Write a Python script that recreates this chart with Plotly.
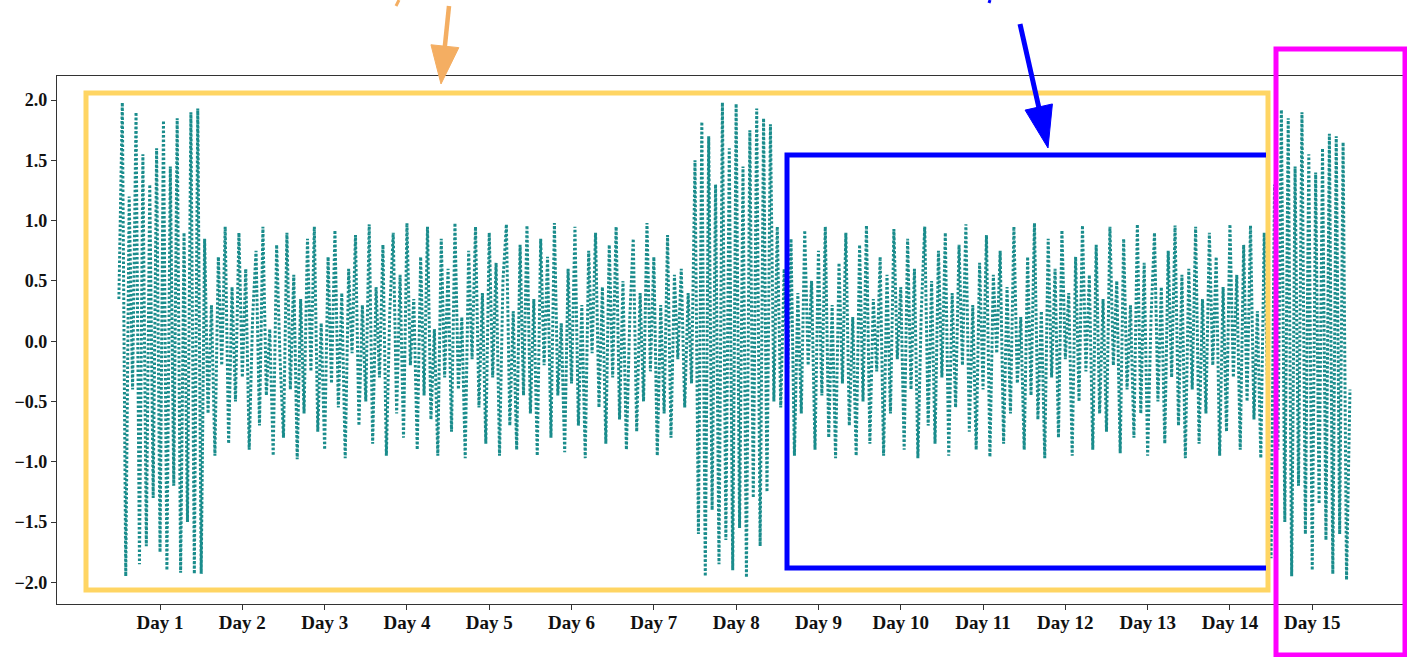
import numpy as np
import plotly.graph_objects as go

# ---- data: hourly values, one list per day ----
day01 = [0.35, 1.98, -1.95, 1.2, -0.4, 1.9, -1.85, 1.55, -1.7, 1.3, -1.3, 1.6,
         -1.75, 1.83, -1.9, 1.45, -1.2, 1.85, -1.92, 0.9, -1.5, 1.9, -1.93, 1.93]
day02 = [-1.93, 0.85, -0.6, 0.3, -0.95, 0.7, -0.2, 0.95, -0.85, 0.45, -0.5, 0.9,
         -0.3, 0.6, -0.9, 0.2, 0.75, -0.7, 0.95, -0.45, 0.1, -0.95, 0.8, -0.15]
day03 = [-0.8, 0.9, -0.4, 0.55, -0.98, 0.35, -0.6, 0.85, -0.25, 0.95, -0.75, 0.15,
         -0.9, 0.7, -0.35, 0.92, -0.55, 0.4, -0.97, 0.6, -0.1, 0.88, -0.7, 0.3]
day04 = [-0.5, 0.97, -0.85, 0.45, -0.3, 0.8, -0.95, 0.25, 0.9, -0.6, 0.55, -0.8,
         0.98, -0.2, 0.35, -0.9, 0.7, -0.45, 0.95, -0.65, 0.1, -0.95, 0.85, -0.3]
day05 = [0.6, -0.75, 0.98, -0.4, 0.2, -0.97, 0.75, -0.15, 0.95, -0.55, 0.4, -0.85,
         0.9, -0.3, 0.65, -0.95, 0.5, 0.97, -0.7, 0.25, -0.9, 0.8, -0.45, 0.96]
day06 = [-0.6, 0.35, -0.95, 0.85, -0.2, 0.7, -0.8, 0.98, -0.45, 0.15, -0.92, 0.6,
         -0.35, 0.95, -0.7, 0.3, -0.97, 0.75, -0.1, 0.9, -0.55, 0.45, -0.85, 0.8]
day07 = [-0.3, 0.95, -0.65, 0.5, -0.9, 0.2, 0.85, -0.75, 0.4, -0.5, 0.98, -0.25,
         0.7, -0.95, 0.3, -0.6, 0.88, -0.8, 0.55, -0.15, 0.6, -0.55, 0.4, -0.35]
day08 = [1.5, -1.6, 1.82, -1.95, 1.7, -1.4, 1.3, -1.85, 1.98, -1.65, 1.6, -1.9,
         1.97, -1.55, 1.45, -1.96, 1.75, -1.3, 1.93, -1.7, 1.85, -1.25, 1.8, -0.5]
day09 = [0.95, -0.55, 0.6, -0.3, 0.85, -0.95, 0.4, -0.6, 0.92, -0.2, 0.5, -0.9,
         0.75, -0.45, 0.95, -0.8, 0.3, -0.97, 0.65, -0.35, 0.9, -0.7, 0.2, -0.95]
day10 = [0.8, -0.5, 0.96, -0.85, 0.35, -0.25, 0.7, -0.95, 0.55, -0.6, 0.93, -0.15,
         0.45, -0.9, 0.85, -0.4, 0.6, -0.97, 0.25, 0.95, -0.7, 0.5, -0.85, 0.75]
day11 = [-0.3, 0.9, -0.95, 0.4, -0.55, 0.8, -0.2, 0.97, -0.75, 0.3, -0.9, 0.65,
         -0.4, 0.88, -0.96, 0.55, -0.1, 0.75, -0.85, 0.45, -0.6, 0.95, -0.35, 0.2]
day12 = [-0.9, 0.7, -0.45, 0.98, -0.65, 0.25, -0.97, 0.85, -0.3, 0.6, -0.8, 0.92,
         -0.15, 0.4, -0.95, 0.7, -0.5, 0.96, -0.25, 0.55, -0.9, 0.8, -0.6, 0.35]
day13 = [-0.75, 0.95, -0.2, 0.5, -0.93, 0.85, -0.4, 0.3, -0.8, 0.97, -0.6, 0.65,
         -0.95, 0.2, 0.9, -0.5, 0.45, -0.85, 0.75, -0.3, 0.96, -0.7, 0.55, -0.97]
day14 = [0.6, -0.4, 0.95, -0.85, 0.35, -0.6, 0.9, -0.2, 0.7, -0.95, 0.45, -0.75,
         0.97, -0.3, 0.55, -0.9, 0.8, -0.5, 0.96, -0.65, 0.25, -0.97, 0.9, -0.4]
day15 = [-1.8, 1.3, -0.9, 1.92, -1.5, 1.85, -1.95, 1.45, -1.2, 1.9, -1.6, 1.55,
         -1.9, 1.4, -1.35, 1.6, -1.65, 1.72, -1.93, 1.7, -1.6, 1.65, -1.98, -0.4]

days = [day01, day02, day03, day04, day05, day06, day07, day08,
        day09, day10, day11, day12, day13, day14, day15]
tick_vals = list(range(1, 16))
tick_text = [f"Day {d}" for d in tick_vals]

values = [v for d in days for v in d]
hours = np.arange(len(values))
xpos = 0.5 + hours / 24.0

W, H = 1407, 657
L, R, T, B = 57, 1404, 76, 604


def px(x):
    return (x - L) / (R - L)


def py(y):
    return (B - y) / (B - T)


fig = go.Figure()
fig.add_trace(go.Scatter(
    x=xpos, y=values, mode="lines",
    line=dict(color="#1a8c8c", width=3, dash="2.6px,1.9px"),
    showlegend=False, hoverinfo="skip"))

shapes = []


def rect(x0, y0, x1, y1, color, w):
    shapes.append(dict(type="rect", xref="paper", yref="paper",
                       x0=px(x0), x1=px(x1), y0=py(y1), y1=py(y0),
                       line=dict(color=color, width=w), fillcolor="rgba(0,0,0,0)"))


def path(pts, color, w, fill=None, close=False):
    d = "M " + " L ".join(f"{px(a):.5f},{py(b):.5f}" for a, b in pts)
    if close:
        d += " Z"
    shapes.append(dict(type="path", xref="paper", yref="paper", path=d,
                       line=dict(color=color, width=w),
                       fillcolor=fill if fill else "rgba(0,0,0,0)"))


def arrow(x0, y0, x1, y1, color, w, head_len, head_w):
    v = np.array([x1 - x0, y1 - y0], dtype=float)
    n = np.hypot(*v)
    u = v / n
    perp = np.array([-u[1], u[0]])
    base = np.array([x1, y1]) - u * head_len
    path([(x0, y0), tuple(base + u * 2)], color, w)
    p1 = base + perp * head_w / 2
    p2 = base - perp * head_w / 2
    path([(x1, y1), tuple(p1), tuple(p2)], color, 1, fill=color, close=True)


yellow = "#FFD563"
rect(86, 93, 1268, 590, yellow, 5)
path([(1266, 155), (787, 155), (787, 568), (1266, 568)], "#0000FF", 5)
rect(1276, 49, 1405, 655, "#FF00FF", 5)
arrow(449, 6, 441, 84, "#F4AE62", 4.5, 38, 28)
arrow(1020, 24, 1048, 148, "#0000FF", 5, 42, 28)
path([(399, 0), (396, 6)], "#F4AE62", 3)
path([(990, 0), (989, 3)], "#0000FF", 3)

tfont = dict(family="Liberation Serif", size=18, color="#111111", weight="bold")
fig.update_layout(
    width=W, height=H,
    margin=dict(l=L, r=W - R, t=T, b=H - B, pad=0, autoexpand=False),
    paper_bgcolor="white", plot_bgcolor="white",
    shapes=shapes,
    font=dict(family="Liberation Serif", size=18, color="#111111"),
    xaxis=dict(range=[-0.252, 16.115], tickvals=tick_vals, ticktext=tick_text,
               showgrid=False, zeroline=False, showline=True, linecolor="#333333",
               linewidth=1.2, mirror=True, ticks="outside", ticklen=5,
               tickcolor="#333333", automargin=False, ticklabelstandoff=-4,
               tickfont=dict(tfont, size=19)),
    yaxis=dict(range=[-2.18, 2.2], tickvals=[-2, -1.5, -1, -0.5, 0, 0.5, 1, 1.5, 2],
               tickformat=".1f", showgrid=False, zeroline=False, showline=True,
               linecolor="#333333", linewidth=1.2, mirror=True, ticks="outside",
               ticklen=5, tickcolor="#333333", automargin=False,
               tickfont=tfont),
)

fig.write_html("out.html", config={"displayModeBar": False},
               post_script="document.body.style.margin='0';document.body.style.padding='0';")
